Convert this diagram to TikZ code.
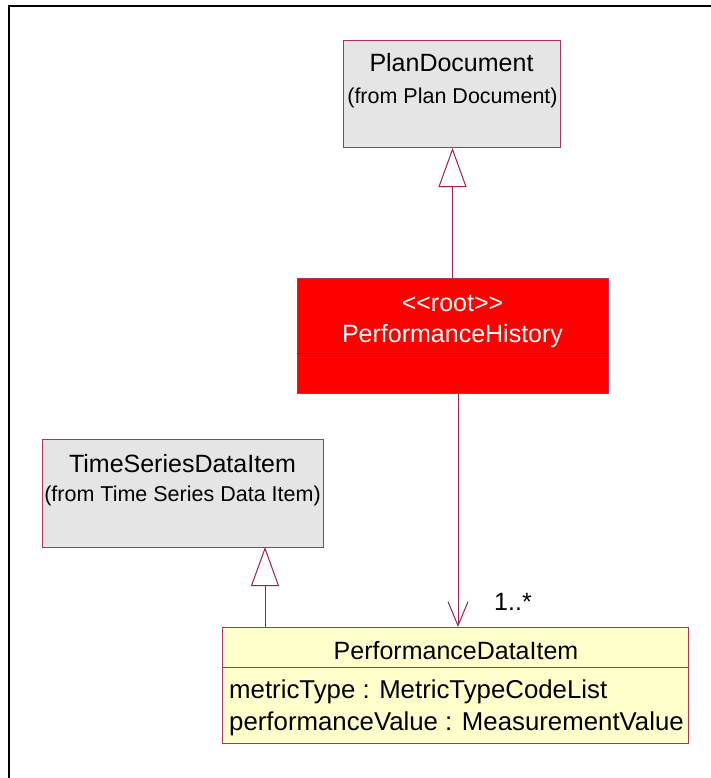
\documentclass[tikz,border=0pt]{standalone}
\usepackage{fontspec}
\setmainfont{Liberation Sans}
\usetikzlibrary{arrows.meta,calc}

\definecolor{umlline}{RGB}{165,30,75}
\definecolor{umlborder}{RGB}{176,50,95}
\definecolor{umlgray}{RGB}{229,229,229}
\definecolor{umlred}{RGB}{255,0,0}
\definecolor{umlyellow}{RGB}{255,255,204}
\definecolor{umldivider}{RGB}{165,0,45}

\newcommand{\bigtxt}{\fontsize{25}{28}\selectfont}
\newcommand{\attrtxt}{\fontsize{25.8}{29}\selectfont}
\newcommand{\smalltxt}{\fontsize{21.5}{24}\selectfont}

\begin{document}
\begin{tikzpicture}[x=1pt,y=-1pt,
  classbox/.style={draw=umlborder, line width=1pt, rectangle, inner sep=0pt, outer sep=0pt},
  graybox/.style={classbox, fill=umlgray},
  redbox/.style={classbox, fill=umlred},
  yellowbox/.style={classbox, fill=umlyellow},
  title/.style={anchor=base, inner sep=0pt, font=\bigtxt},
  subtitle/.style={anchor=base, inner sep=0pt, font=\smalltxt},
  attr/.style={anchor=base west, inner sep=0pt, font=\attrtxt},
  gen/.style={draw=umlline, line width=1pt, -{Triangle[open, length=39pt, width=28pt, line width=1pt]}},
  assoc/.style={draw=umlline, line width=1pt, -{Straight Barb[length=24pt, width=20pt, line width=1pt]}},
  frameline/.style={draw=black, line width=2pt}
]
% canvas
\useasboundingbox (0,0) rectangle (710,778);
\fill[white] (0,0) rectangle (710,778);

% outer frame (left and top edges)
\coordinate (frameTL) at (9,6);
\coordinate (frameTR) at (712,6);
\coordinate (frameBL) at (9,780);
\draw[frameline] (frameBL) -- (frameTL) -- (frameTR);

% PlanDocument
\node[graybox, minimum width=217pt, minimum height=107pt] (plan) at (451.5,94.5) {};
\node[title] (planname) at (451.5,72) {PlanDocument};
\node[subtitle] (planfrom) at (452.5,103.5) {(from Plan Document)};

% PerformanceHistory
\node[redbox, minimum width=311pt, minimum height=115pt] (ph) at (452.5,335.5) {};
\draw[draw=umldivider, line width=1pt] (ph.west |- 0,353) -- (ph.east |- 0,353);
\node[title, text=white] (phstereo) at (452.5,311) {<{}<root>{}>};
\node[title, text=white] (phname) at (452.5,342) {PerformanceHistory};

% TimeSeriesDataItem
\node[graybox, minimum width=281pt, minimum height=108pt] (ts) at (182.5,493) {};
\node[title] (tsname) at (182.5,472) {TimeSeriesDataItem};
\node[subtitle] (tsfrom) at (182.5,501.5) {(from Time Series Data Item)};

% PerformanceDataItem
\node[yellowbox, minimum width=466pt, minimum height=116pt] (pdi) at (455,685) {};
\draw[draw=umlborder, line width=1pt] (pdi.west |- 0,667) -- (pdi.east |- 0,667);
\node[title] (pdiname) at (456,659) {PerformanceDataItem};
\node[attr] (attr1) at (229,698) {metricType : MetricTypeCodeList};
\node[attr] (attr2) at (229,730) {performanceValue : MeasurementValue};

% generalizations
\draw[gen] (ph.north) -- (ph.north |- plan.south);
\draw[gen] ([xshift=43pt]pdi.north west) -- ([xshift=43pt]pdi.north west |- ts.south);

% association with multiplicity
\draw[assoc] ([xshift=5.5pt]ph.south) -- ([xshift=5.5pt]ph.south |- pdi.north);
\node[title, anchor=base west] (mult) at (494,610) {1..*};
\end{tikzpicture}
\end{document}
